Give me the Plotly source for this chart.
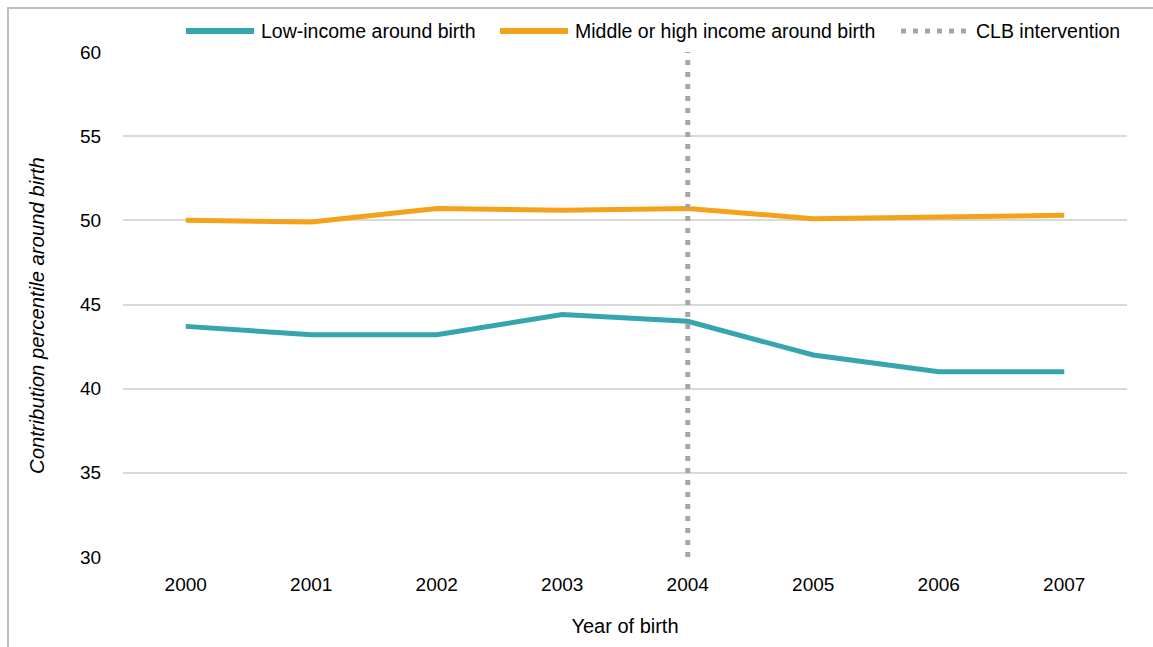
import plotly.graph_objects as go

# Year of birth categories and the two cohort series
years = ["2000", "2001", "2002", "2003", "2004", "2005", "2006", "2007"]
low_income = [43.7, 43.2, 43.2, 44.4, 44.0, 42.0, 41.0, 41.0]
mid_high_income = [50.0, 49.9, 50.7, 50.6, 50.7, 50.1, 50.2, 50.3]
intervention_year = "2004"

series_names = ["Low-income around birth", "Middle or high income around birth", "CLB intervention"]
y_ticks = [30, 35, 40, 45, 50, 55, 60]

TEAL = "#35a5ae"
ORANGE = "#f4a21c"
GREY = "#a6a6a6"
FONT = "Liberation Sans, Arial, sans-serif"

W, H = 1153, 647
ML, MR, MT, MB = 123, 26, 52, 90
PW, PH = W - ML - MR, H - MT - MB


def px_x(p):
    return (p - ML) / PW


def px_y(p):
    return 1 - (p - MT) / PH


fig = go.Figure()
fig.add_trace(go.Scatter(x=years, y=low_income, mode="lines", name=series_names[0],
                         line=dict(color=TEAL, width=5), showlegend=False))
fig.add_trace(go.Scatter(x=years, y=mid_high_income, mode="lines", name=series_names[1],
                         line=dict(color=ORANGE, width=5), showlegend=False))

x_int = years.index(intervention_year)
shapes = [
    # intervention marker
    dict(type="line", xref="x", yref="y", x0=x_int, x1=x_int,
         y0=y_ticks[0], y1=y_ticks[-1], line=dict(color=GREY, width=5, dash="5px,7px"),
         layer="above"),
    # outer frame
    dict(type="rect", xref="paper", yref="paper", x0=px_x(8), x1=px_x(1200),
         y0=px_y(700), y1=px_y(8), line=dict(color="#bfbfbf", width=2),
         fillcolor="rgba(0,0,0,0)", layer="below"),
]

# legend keys
ly = px_y(31)
shapes.append(dict(type="line", xref="paper", yref="paper", x0=px_x(186), x1=px_x(254),
                   y0=ly, y1=ly, line=dict(color=TEAL, width=6)))
shapes.append(dict(type="line", xref="paper", yref="paper", x0=px_x(500), x1=px_x(568),
                   y0=ly, y1=ly, line=dict(color=ORANGE, width=6)))
shapes.append(dict(type="line", xref="paper", yref="paper", x0=px_x(901), x1=px_x(968),
                   y0=ly, y1=ly, line=dict(color=GREY, width=5, dash="5px,7px")))

legend_font = dict(size=19.5)
annotations = [
    dict(text=series_names[0], xref="paper", yref="paper", x=px_x(259), y=ly,
         xanchor="left", yanchor="middle", showarrow=False, font=legend_font),
    dict(text=series_names[1], xref="paper", yref="paper", x=px_x(573), y=ly,
         xanchor="left", yanchor="middle", showarrow=False, font=legend_font),
    dict(text=series_names[2], xref="paper", yref="paper", x=px_x(974), y=ly,
         xanchor="left", yanchor="middle", showarrow=False, font=legend_font),
    # y-axis title
    dict(text="<i>Contribution percentile around birth</i>", xref="paper", yref="paper",
         x=px_x(37), y=px_y(316), xanchor="center", yanchor="middle",
         textangle=-90, showarrow=False, font=dict(size=20.3)),
]

fig.update_layout(
    width=W, height=H,
    margin=dict(l=ML, r=MR, t=MT, b=MB),
    paper_bgcolor="white", plot_bgcolor="white",
    font=dict(family=FONT, size=19, color="#000000"),
    shapes=shapes,
    annotations=annotations,
    showlegend=False,
)
fig.update_xaxes(
    type="category", range=[-0.5, len(years) - 0.5],
    showgrid=False, showline=False, zeroline=False,
    ticks="outside", ticklen=10, tickcolor="rgba(0,0,0,0)",
    tickfont=dict(size=19),
    title=dict(text="Year of birth", standoff=25, font=dict(size=20)),
)
fig.update_yaxes(
    range=[y_ticks[0], y_ticks[-1]], tickvals=y_ticks,
    showgrid=True, gridcolor="#d9d9d9", gridwidth=2,
    showline=False, zeroline=False,
    ticks="outside", ticklen=17, tickcolor="rgba(0,0,0,0)",
    tickfont=dict(size=19),
)

fig.write_html("out.html")
